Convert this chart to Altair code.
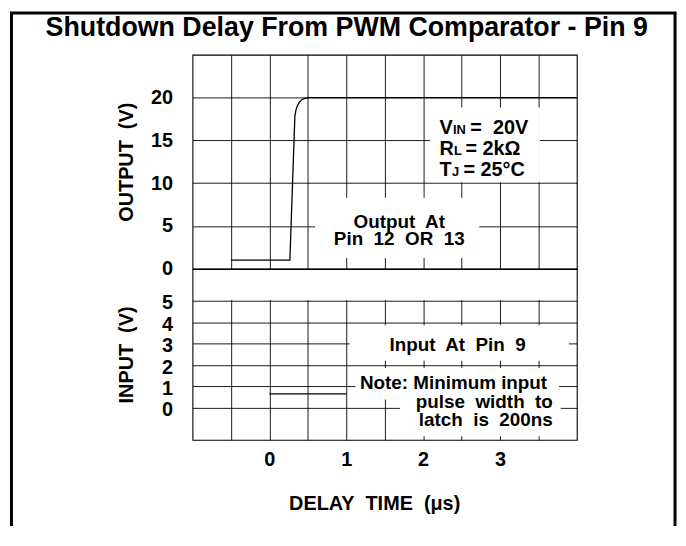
import altair as alt
import pandas as pd

FONT = "Liberation Sans"
SP = "\u00a0"  # non-breaking space so that double spaces survive in SVG

title_text = "Shutdown Delay From PWM Comparator - Pin 9"
x_title = "DELAY" + SP + " TIME" + SP + " (\u03bcs)"
out_title = "OUTPUT" + SP + " (V)"
in_title = "INPUT" + SP + " (V)"

# axes
x_domain = [-1.0, 4.0]
x_grid = [-0.5, 0.0, 0.5, 1.0, 1.5, 2.0, 2.5, 3.0, 3.5]
out_domain = [0, 25]
out_ticks = [0, 5, 10, 15, 20]
in_domain = [-1.5, 6.5]
in_ticks = [0, 1, 2, 3, 4, 5]

# output trace (us, V)
out_t = [-0.5, 0.267, 0.332, 0.345, 0.365, 0.39, 0.42, 0.46, 0.52, 4.0]
out_v = [1.0, 1.0, 17.83, 18.5, 19.05, 19.45, 19.72, 19.9, 20.0, 20.0]

# input trace
in_t = [0.0, 1.0]
in_v = [0.65, 0.65]

# white backgrounds behind the annotations (data units)
ob_x1 = [0.594, 2.09]
ob_x2 = [2.73, 3.52]
ob_y1 = [1.25, 10.1]
ob_y2 = [8.3, 18.85]

ib_x1 = [1.045, 1.12, 1.70, -0.98]
ib_x2 = [3.897, 3.77, 3.79, 3.98]
ib_y1 = [2.2, 0.39, -1.33, 5.05]
ib_y2 = [3.87, 1.87, 0.39, 6.45]

# annotations
out_lbl = ["Output" + SP + " At", "Pin" + SP + " 12" + SP + " OR" + SP + " 13"]
out_lbl_x = [1.69, 1.69]
out_lbl_y = [5.48, 3.42]

cond_main = ["V", "R", "T"]
cond_sub = ["IN", "L", "J"]
cond_rest = ["=" + SP + " 20V", "= 2k\u03a9", "= 25\u00b0C"]
cond_x = [2.215, 2.215, 2.215]
cond_y = [15.78, 13.27, 10.87]

in_lbl = ["Input" + SP + " At" + SP + " Pin" + SP + " 9",
          "Note: Minimum input",
          "pulse" + SP + " width" + SP + " to",
          "latch" + SP + " is" + SP + " 200ns"]
in_lbl_x = [2.449, 2.396, 2.797, 2.815]
in_lbl_y = [2.92, 1.175, 0.29, -0.59]

W = 387.5
H1 = 215.7
H2 = 172.3

out_df = pd.DataFrame({"t": out_t, "v": out_v})
in_df = pd.DataFrame({"t": in_t, "v": in_v})
ob_df = pd.DataFrame({"x1": ob_x1, "x2": ob_x2, "y1": ob_y1, "y2": ob_y2})
ib_df = pd.DataFrame({"x1": ib_x1, "x2": ib_x2, "y1": ib_y1, "y2": ib_y2})
olbl_df = pd.DataFrame({"x": out_lbl_x, "y": out_lbl_y, "text": out_lbl})
ilbl_df = pd.DataFrame({"x": in_lbl_x, "y": in_lbl_y, "text": in_lbl})
one = pd.DataFrame({"a": [0]})

xs_u = alt.Scale(domain=x_domain, nice=False, zero=False)
ys_u = alt.Scale(domain=out_domain, nice=False, zero=False)
xs_l = alt.Scale(domain=x_domain, nice=False, zero=False)
ys_l = alt.Scale(domain=in_domain, nice=False, zero=False)

ux_axis = alt.Axis(values=x_grid, labels=False, title=None, grid=True)
uy_axis = alt.Axis(values=out_ticks, title=out_title, titleAngle=270,
                   titleX=-66.8, titleY=H1 / 2, titleAlign="center",
                   titleBaseline="middle", labelPadding=20, grid=True,
                   labelOverlap=False)
lx_axis = alt.Axis(values=x_grid,
                   labelExpr="abs(datum.value - round(datum.value)) < 0.01 ? format(datum.value, 'd') : ''",
                   title=x_title, titleX=183.2, titleY=64, titleAlign="center",
                   titleBaseline="middle", labelPadding=10, grid=True,
                   labelFlush=False, labelOverlap=False)
ly_axis = alt.Axis(values=in_ticks, title=in_title, titleAngle=270,
                   titleX=-66.8, titleY=H2 / 2, titleAlign="center",
                   titleBaseline="middle", labelPadding=20, labelOffset=2,
                   grid=True, labelOverlap=False)

txt = dict(font=FONT, fontWeight="bold", color="black")

# ---------- upper panel ----------
u_boxes = alt.Chart(ob_df).mark_rect(color="white").encode(
    x=alt.X("x1:Q", scale=xs_u, axis=ux_axis),
    x2="x2",
    y=alt.Y("y1:Q", scale=ys_u, axis=uy_axis),
    y2="y2",
)
u_line = alt.Chart(out_df).mark_line(color="black", strokeWidth=1.3).encode(
    x=alt.X("t:Q", scale=xs_u, axis=ux_axis),
    y=alt.Y("v:Q", scale=ys_u, axis=uy_axis),
)
u_text = alt.Chart(olbl_df).mark_text(fontSize=19, align="center",
                                      baseline="middle", **txt).encode(
    x=alt.X("x:Q", scale=xs_u, axis=ux_axis),
    y=alt.Y("y:Q", scale=ys_u, axis=uy_axis),
    text="text:N",
)

sub_dx = [13.5, 14.5, 12.5]
rest_dx = [31.0, 26.0, 24.0]
cond_layers = []
for i in range(3):
    row = pd.DataFrame({"x": [cond_x[i]], "y": [cond_y[i]],
                        "m": [cond_main[i]], "s": [cond_sub[i]],
                        "r": [cond_rest[i]]})
    base = alt.Chart(row).encode(
        x=alt.X("x:Q", scale=xs_u, axis=ux_axis),
        y=alt.Y("y:Q", scale=ys_u, axis=uy_axis),
    )
    cond_layers.append(base.mark_text(fontSize=20, align="left",
                                      baseline="alphabetic", **txt).encode(text="m:N"))
    cond_layers.append(base.mark_text(fontSize=13, align="left", dx=sub_dx[i],
                                      baseline="alphabetic", **txt).encode(text="s:N"))
    cond_layers.append(base.mark_text(fontSize=20, align="left", dx=rest_dx[i],
                                      baseline="alphabetic", **txt).encode(text="r:N"))

title_mark = alt.Chart(one).mark_text(text=title_text, fontSize=27, align="center",
                                      baseline="middle", **txt).encode(
    x=alt.value(155.5), y=alt.value(-27))

frame_top = alt.Chart(one).mark_rule(color="black", strokeWidth=3, strokeCap="square").encode(
    x=alt.value(-182.5), x2=alt.value(486.5), y=alt.value(-42))
frame_left = alt.Chart(one).mark_rule(color="black", strokeWidth=3).encode(
    x=alt.value(-182.5), y=alt.value(-42), y2=alt.value(475))
frame_right = alt.Chart(one).mark_rule(color="black", strokeWidth=3).encode(
    x=alt.value(486.5), y=alt.value(-42), y2=alt.value(475))

upper = alt.layer(u_boxes, u_line, u_text, *cond_layers, title_mark,
                  frame_top, frame_left, frame_right).properties(width=W, height=H1)

# ---------- lower panel ----------
l_boxes = alt.Chart(ib_df).mark_rect(color="white").encode(
    x=alt.X("x1:Q", scale=xs_l, axis=lx_axis),
    x2="x2",
    y=alt.Y("y1:Q", scale=ys_l, axis=ly_axis),
    y2="y2",
)
l_line = alt.Chart(in_df).mark_line(color="black", strokeWidth=1.3).encode(
    x=alt.X("t:Q", scale=xs_l, axis=lx_axis),
    y=alt.Y("v:Q", scale=ys_l, axis=ly_axis),
)
l_text = alt.Chart(ilbl_df).mark_text(fontSize=19, align="center",
                                      baseline="middle", **txt).encode(
    x=alt.X("x:Q", scale=xs_l, axis=lx_axis),
    y=alt.Y("y:Q", scale=ys_l, axis=ly_axis),
    text="text:N",
)
lower = alt.layer(l_boxes, l_line, l_text).properties(width=W, height=H2)

chart = alt.vconcat(upper, lower, spacing=0, bounds="flush").properties(
    padding={"left": 0, "top": 0, "right": 0, "bottom": 0},
    background="white",
).configure_view(
    stroke="black", strokeWidth=1.1
).configure_axis(
    labelFont=FONT, labelFontSize=20, labelFontWeight="bold", labelColor="black",
    titleFont=FONT, titleFontSize=20, titleFontWeight="bold", titleColor="black",
    gridColor="black", gridWidth=1, gridOpacity=0.9,
    ticks=False, tickSize=0, domain=False,
)

chart.save("out.html", embed_options={"renderer": "svg", "actions": False})
